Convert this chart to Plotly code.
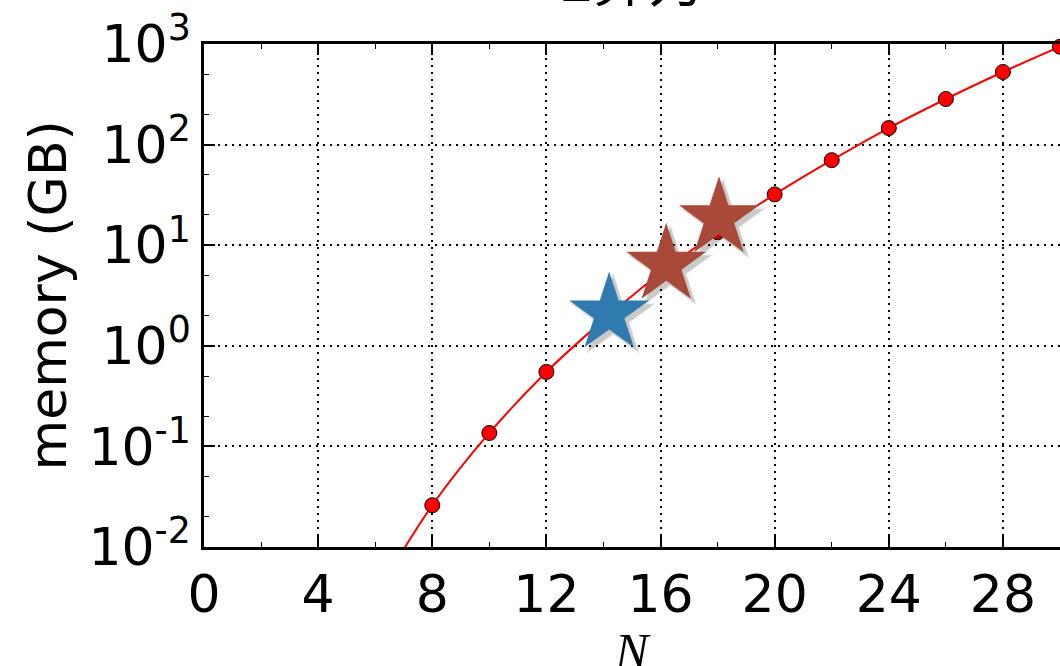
import plotly.graph_objects as go

# ---- data ----
N_points = [8, 10, 12, 14, 16, 18, 20, 22, 24, 26, 28, 30]
mem_points = [0.026, 0.136, 0.55, 1.8, 5.3, 13.5, 32, 70, 146, 284, 527, 940]

N_curve = [6, 8, 10, 12, 14, 16, 18, 20, 22, 24, 26, 28, 30]
mem_curve = [0.0032, 0.026, 0.136, 0.55, 1.8, 5.3, 13.5, 32, 70, 146, 284, 527, 940]

star_blue_N = [14.2]
star_blue_mem = [2.1]
star_red_N = [16.2, 18.05]
star_red_mem = [6.4, 18.5]

x_ticks = [0, 4, 8, 12, 16, 20, 24, 28]
y_tickvals = [0.01, 0.1, 1, 10, 100, 1000]
y_ticktext = ["10<sup>-2</sup>", "10<sup>-1</sup>", "10<sup>0</sup>",
              "10<sup>1</sup>", "10<sup>2</sup>", "10<sup>3</sup>"]
title_text = "2算力"
x_label = "<i>N</i>"
y_label = "memory (GB)"

FONT = "DejaVu Sans"
FS = 52
L, R, T, B = 204, 0, 44, 119
PW, PH = 1060 - L - R, 666 - T - B

fig = go.Figure()

fig.add_trace(go.Scatter(x=N_curve, y=mem_curve, mode="lines", line=dict(color="red", width=2, shape="spline"),
                         hoverinfo="skip", showlegend=False))
fig.add_trace(go.Scatter(x=N_points, y=mem_points, mode="markers",
                         marker=dict(color="red", size=15, line=dict(color="black", width=1)),
                         cliponaxis=False, showlegend=False))

# star shadows (soft, offset a few px right/down)
dx = 4 * 30 / PW
fy = 10 ** (-4 * 5 / PH)
sh_N = [v + dx for v in star_blue_N + star_red_N]
sh_m = [v * fy for v in star_blue_mem + star_red_mem]
for s, a in [(66, 0.05), (63, 0.07), (60, 0.10)]:
    fig.add_trace(go.Scatter(x=sh_N, y=sh_m, mode="markers",
                             marker=dict(symbol="star", size=s, color=f"rgba(0,0,0,{a})", line=dict(width=0)),
                             showlegend=False, hoverinfo="skip"))
fig.add_trace(go.Scatter(x=star_blue_N, y=star_blue_mem, mode="markers",
                         marker=dict(symbol="star", size=60, color="#2f7bb0", line=dict(width=0)),
                         showlegend=False))
fig.add_trace(go.Scatter(x=star_red_N, y=star_red_mem, mode="markers",
                         marker=dict(symbol="star", size=60, color="#a9493a", line=dict(width=0)),
                         showlegend=False))

fig.update_layout(
    width=1060, height=666,
    margin=dict(l=L, r=R, t=T, b=B),
    paper_bgcolor="white", plot_bgcolor="white",
    font=dict(family=FONT, size=FS, color="black"),
    showlegend=False,
)

fig.update_xaxes(
    range=[0, 30], tickvals=x_ticks, ticks="inside", ticklen=11, tickwidth=1.5, tickcolor="black",
    showline=True, linecolor="black", linewidth=2.5, mirror="ticks",
    showgrid=True, gridcolor="black", gridwidth=1.5, griddash="2px,5px",
    minor=dict(dtick=2, ticks="inside", ticklen=5, tickwidth=1.2, tickcolor="black", showgrid=False),
    tickfont=dict(family=FONT, size=FS), zeroline=False, automargin=False,
)
fig.update_yaxes(
    type="log", range=[-2, 3], tickvals=y_tickvals, ticktext=y_ticktext,
    ticks="inside", ticklen=11, tickwidth=1.5, tickcolor="black",
    showline=True, linecolor="black", linewidth=2.5,
    showgrid=True, gridcolor="black", gridwidth=1.5, griddash="2px,5px",
    minor=dict(ticks="inside", ticklen=5, tickwidth=1.2, tickcolor="black", showgrid=False),
    tickfont=dict(family=FONT, size=FS), zeroline=False, automargin=False,
)

# axis titles
fig.add_annotation(text=y_label, xref="paper", yref="paper", x=(47 - L) / PW, y=0.5,
                   xanchor="center", yanchor="middle", textangle=-90, showarrow=False,
                   font=dict(family=FONT, size=FS, color="black"))
fig.add_annotation(text=x_label, xref="paper", yref="paper", x=0.5, y=-(651 - (T + PH)) / PH,
                   xanchor="center", yanchor="middle", showarrow=False,
                   font=dict(family="Liberation Serif", size=50, color="black"))

# title (mostly cut off at the top edge, as in the reference)
fig.add_annotation(text=title_text, xref="paper", yref="paper", x=0.5, y=1 + (T - 19) / PH,
                   yanchor="bottom", showarrow=False,
                   font=dict(family="Noto Sans CJK SC", size=56, color="black"))

fig.write_html("out.html")
